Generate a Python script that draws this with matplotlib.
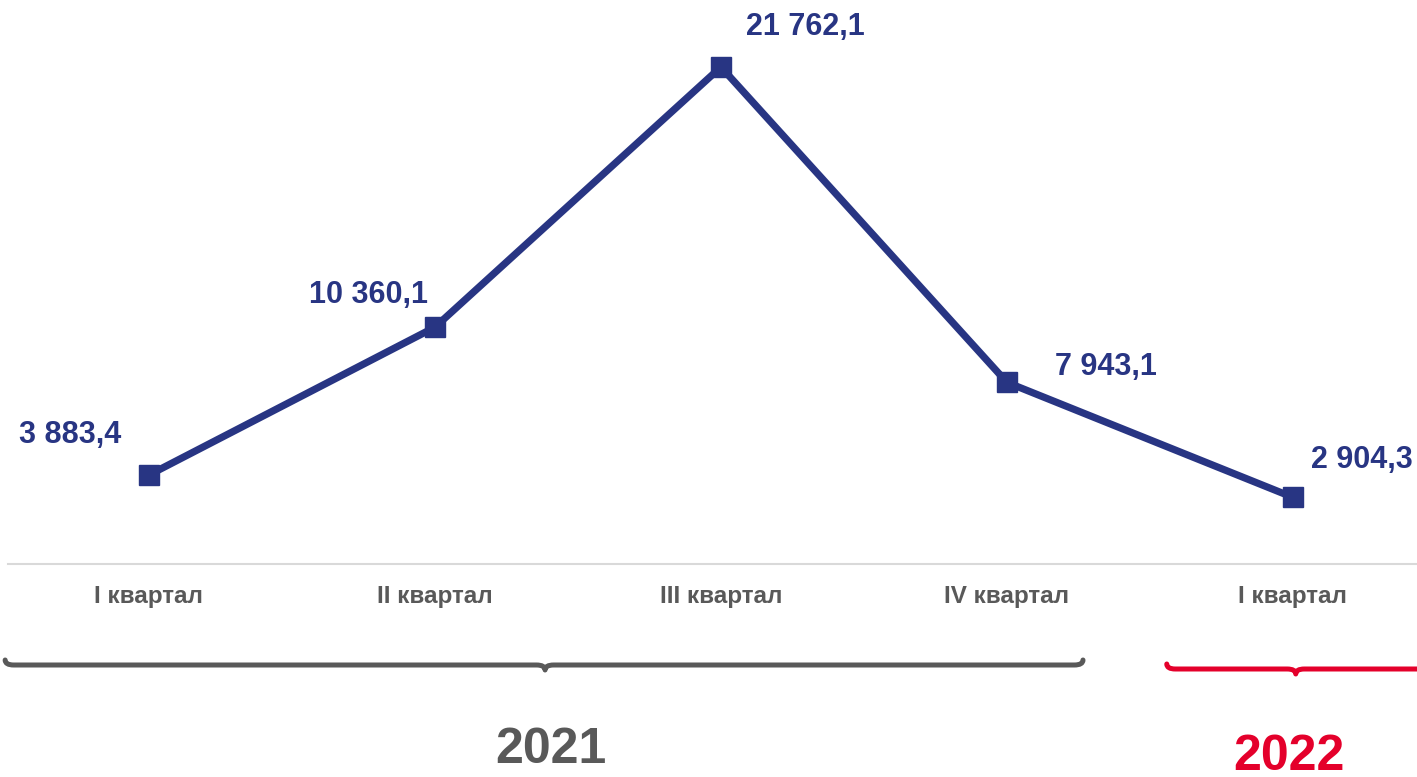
import numpy as np
import matplotlib
matplotlib.use('Agg')
import matplotlib.pyplot as plt
from matplotlib.path import Path
from matplotlib.patches import PathPatch
from matplotlib.transforms import blended_transform_factory

quarters = ['I квартал', 'II квартал', 'III квартал', 'IV квартал', 'I квартал']
values = [3883.4, 10360.1, 21762.1, 7943.1, 2904.3]
labels = ['3 883,4', '10 360,1', '21 762,1', '7 943,1', '2 904,3']
# label offsets in points (dx, dy)
offsets = [(-57, 29), (-48, 23), (61, 29), (71, 11), (50, 27)]
years = ['2021', '2022']

navy = '#283583'
gray = '#595959'
red = '#e4002b'

plt.rcParams['font.family'] = ['Liberation Sans', 'DejaVu Sans']

fig = plt.figure(figsize=(14.17, 7.77), dpi=100)
ax = fig.add_axes([0, 0, 1, 1])
ax.set_xlim(-0.521, 4.434)
ax.set_ylim(-9351, 24697)
ax.axis('off')

x = np.arange(len(values))
ax.axhline(0, xmin=(-0.493 + 0.521) / 4.955, xmax=1, color='#d9d9d9', lw=1.5, zorder=1)
ax.plot(x, values, color=navy, lw=5.2, marker='s', ms=15, solid_capstyle='round', zorder=3)

for xi, v, lab, off in zip(x, values, labels, offsets):
    ax.annotate(lab, (xi, v), xytext=off, textcoords='offset points',
                ha='center', va='center', fontsize=22, fontweight='bold', color=navy)

tr = blended_transform_factory(ax.transData, fig.transFigure)
for xi, q in zip(x, quarters):
    ax.text(xi, 1 - 597 / 777, q, transform=tr, ha='center', va='center',
            fontsize=17.5, fontweight='bold', color=gray)


def brace(x0, x1, xm, ypix, color, right_end=True):
    y = 1 - ypix / 777
    h = 5 / 777
    d = 0.03
    verts = [(x0, y + h), (x0, y), (x0 + d, y),
             (xm - d, y), (xm, y), (xm, y - h),
             (xm, y), (xm + d, y)]
    codes = [Path.MOVETO, Path.CURVE3, Path.CURVE3,
             Path.LINETO, Path.CURVE3, Path.CURVE3,
             Path.CURVE3, Path.CURVE3]
    if right_end:
        verts += [(x1 - d, y), (x1, y), (x1, y + h)]
        codes += [Path.LINETO, Path.CURVE3, Path.CURVE3]
    else:
        verts += [(x1, y)]
        codes += [Path.LINETO]
    p = PathPatch(Path(verts, codes), transform=tr, fill=False,
                  edgecolor=color, lw=3.6, capstyle='round', joinstyle='round')
    ax.add_patch(p)


brace(-0.503, 3.266, 1.385, 665, gray)
brace(3.559, 4.5, 4.01, 669, red, right_end=False)

ax.text(1.406, 1 - 750 / 777, years[0], transform=tr, ha='center', va='center',
        fontsize=36, fontweight='bold', color=gray)
ax.text(3.986, 1 - 757 / 777, years[1], transform=tr, ha='center', va='center',
        fontsize=36, fontweight='bold', color=red)

fig.savefig('out.png', dpi=100)
